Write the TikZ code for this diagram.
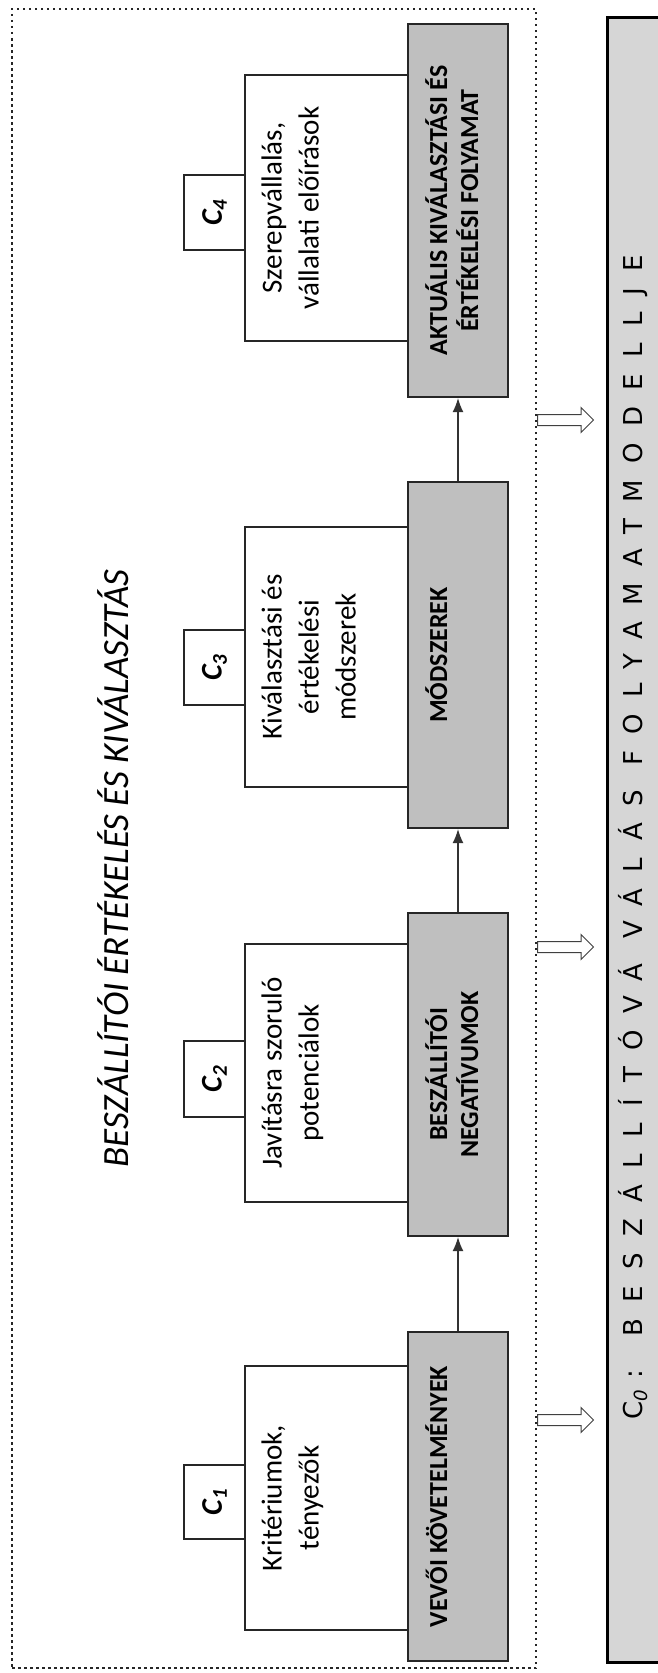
\documentclass[tikz,border=0pt]{standalone}
\usepackage{fontspec}
\setmainfont{Carlito}
\newfontfamily\modellfont[LetterSpace=63]{DejaVu Sans}
\usetikzlibrary{arrows.meta}
\usetikzlibrary{shapes.arrows}

\begin{document}
\begin{tikzpicture}[x=1pt,y=-1pt,
		doboz/.style={draw=black!85,line width=1.5pt,rotate=90,inner sep=0pt},
		folyamat/.style={doboz,fill=black!25,line width=2pt},
		tartalom/.style={doboz,fill=white},
		cimke/.style={doboz,fill=white,font=\fontsize{30}{36}\selectfont\bfseries\itshape},
		folyszoveg/.style={rotate=90,anchor=north,inner sep=0pt,align=center,font=\fontsize{26}{31}\selectfont\bfseries},
		tartszoveg/.style={rotate=90,anchor=north,inner sep=0pt,align=center,font=\fontsize{29}{37}\selectfont},
		nyil/.style={draw=black!80,line width=1.6pt,-{Latex[length=14pt,width=11pt]}},
		atadas/.style={single arrow,draw=black!75,fill=white,line width=1pt,minimum height=56pt,inner xsep=0pt,inner ysep=5pt,single arrow head extend=7pt,anchor=tail}]
			
			\useasboundingbox (0,0) rectangle (658,1673);
			\clip (0,0) rectangle (658,1673);
			
			% dotted frame
			\node[draw=black!85,line width=2.5pt,dash pattern=on 2.5pt off 3.5pt,minimum width=524pt,minimum height=1659pt,inner sep=0pt] (keret) at (274,838.5) {};
			
			% the model box on the right
			\node[rotate=90,draw=black,line width=3pt,fill=black!16,minimum width=1645pt,minimum height=57pt,inner sep=0pt] (modell) at (635.5,839.5) {};
			\node[rotate=90,anchor=west,inner sep=0pt,font=\modellfont\fontsize{26}{30}\selectfont] (modellszoveg) at (633,1420) {C\textsubscript{\textit{0}}: BESZÁLLÍTÓVÁ VÁLÁS FOLYAMATMODELLJE};
			
			% title
			\node[rotate=90,font=\fontsize{37}{44}\selectfont\itshape] (cim) at (113,868.5) {BESZÁLLÍTÓI ÉRTÉKELÉS ÉS KIVÁLASZTÁS};
			
			% white boxes
			\node[tartalom,minimum width=266pt,minimum height=163pt] (t4) at (326.5,208) {};
			\node[tartalom,minimum width=260pt,minimum height=163pt] (t3) at (326.5,657) {};
			\node[tartalom,minimum width=258pt,minimum height=163pt] (t2) at (326.5,1073) {};
			\node[tartalom,minimum width=264pt,minimum height=163pt] (t1) at (326.5,1498) {};
			
			% C boxes
			\node[cimke,minimum width=75pt,minimum height=61pt] (c4) at (214.5,212.5) {C\textsubscript{4}};
			\node[cimke,minimum width=75pt,minimum height=61pt] (c3) at (214.5,667.5) {C\textsubscript{3}};
			\node[cimke,minimum width=76pt,minimum height=61pt] (c2) at (214.5,1079) {C\textsubscript{2}};
			\node[cimke,minimum width=74pt,minimum height=61pt] (c1) at (214.5,1502) {C\textsubscript{1}};
			
			% grey boxes
			\node[folyamat,minimum width=373pt,minimum height=100pt] (f4) at (458,210.5) {};
			\node[folyamat,minimum width=346pt,minimum height=100pt] (f3) at (458,655) {};
			\node[folyamat,minimum width=323pt,minimum height=100pt] (f2) at (458,1074.5) {};
			\node[folyamat,minimum width=329pt,minimum height=100pt] (f1) at (458,1496.5) {};
			
			% texts of the boxes
			\node[tartszoveg] (t4sz) at ([xshift=17pt]t4.north) {Szerepvállalás,\\vállalati előírások};
			\node[tartszoveg] (t3sz) at ([xshift=17pt]t3.north) {Kiválasztási és\\értékelési\\módszerek};
			\node[tartszoveg] (t2sz) at ([xshift=17pt]t2.north) {Javításra szoruló\\potenciálok};
			\node[tartszoveg] (t1sz) at ([xshift=17pt]t1.north) {Kritériumok,\\tényezők};
			
			\node[folyszoveg] (f4sz) at ([xshift=18pt]f4.north) {AKTUÁLIS KIVÁLASZTÁSI ÉS\\ÉRTÉKELÉSI FOLYAMAT};
			\node[folyszoveg] (f3sz) at ([xshift=18pt]f3.north) {MÓDSZEREK};
			\node[folyszoveg] (f2sz) at ([xshift=18pt]f2.north) {BESZÁLLÍTÓI\\NEGATÍVUMOK};
			\node[folyszoveg] (f1sz) at ([xshift=18pt]f1.north) {VEVŐI KÖVETELMÉNYEK};
			
			% arrows between the grey boxes
			\draw[nyil] (f1) -- (f2);
			\draw[nyil] (f2) -- (f3);
			\draw[nyil] (f3) -- (f4);
			
			% hollow arrows to the model
			\node[atadas] (a3) at (537,420) {};
			\node[atadas] (a2) at (537,947) {};
			\node[atadas] (a1) at (537,1420) {};
			
		\end{tikzpicture}
\end{document}
